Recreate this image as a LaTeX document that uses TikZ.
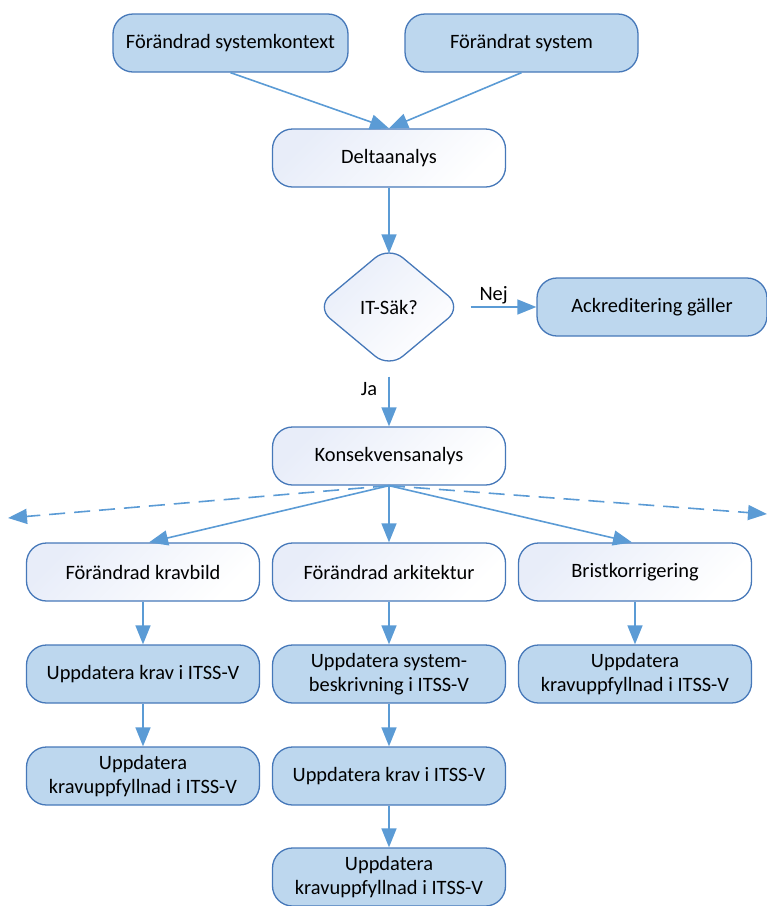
\documentclass[tikz,border=0pt]{standalone}
\usepackage{fontspec}
\setmainfont{Carlito}
\usetikzlibrary{arrows.meta,shapes.geometric}
\definecolor{fillc}{RGB}{189,215,238}
\definecolor{bordc}{RGB}{70,120,185}
\definecolor{arrc}{RGB}{91,155,213}
\definecolor{lav}{RGB}{232,237,249}
\tikzset{
  base/.style={draw=bordc, line width=1.3pt, rounded corners=20pt, minimum width=233pt,
    minimum height=58pt, align=center, inner sep=0pt, font=\fontsize{20.4}{24.4}\selectfont},
  bluebox/.style={base, fill=fillc},
  whitebox/.style={base, top color=lav, bottom color=white, shading angle=45},
  decision/.style={diamond, draw=bordc, line width=1.3pt, rounded corners=18pt,
    minimum width=146pt, minimum height=122pt, inner sep=0pt,
    top color=lav, bottom color=white, shading angle=45, font=\fontsize{20.4}{24.4}\selectfont},
  conn/.style={draw=arrc, line width=1.6pt, -{Triangle[length=19pt,width=15pt]}},
  dconn/.style={conn, dash pattern=on 16pt off 9pt},
  lbl/.style={font=\fontsize{20.4}{24.4}\selectfont, inner sep=0pt}
}
\begin{document}
\begin{tikzpicture}[x=1pt,y=-1pt]
\useasboundingbox (0,0) rectangle (767,906);
\node[bluebox, minimum width=235pt] (ctx) at (230.5,43) {Förändrad systemkontext};
\node[bluebox] (sys) at (521.5,43) {Förändrat system};
\node[whitebox] (delta) at (389,158) {Deltaanalys};
\node[decision] (d) at (389,307) {IT-Säk?};
\node[bluebox, minimum width=230pt] (ack) at (652,307) {Ackreditering gäller};
\node[whitebox] (k) at (389,456) {Konsekvensanalys};
\node[whitebox] (fk) at (143,572) {Förändrad kravbild};
\node[whitebox] (fa) at (389,572) {Förändrad arkitektur};
\node[whitebox] (bk) at (635,572) {Bristkorrigering};
\node[bluebox] (uk1) at (143,674) {Uppdatera krav i ITSS-V};
\node[bluebox] (us) at (389,674) {Uppdatera system-\\beskrivning i ITSS-V};
\node[bluebox] (uf3) at (635,674) {Uppdatera\\kravuppfyllnad i ITSS-V};
\node[bluebox] (uf1) at (143,776) {Uppdatera\\kravuppfyllnad i ITSS-V};
\node[bluebox] (uk2) at (389,776) {Uppdatera krav i ITSS-V};
\node[bluebox] (uf2) at (389,877) {Uppdatera\\kravuppfyllnad i ITSS-V};
\coordinate (dl) at (8,518);
\coordinate (dr) at (767,514);

\draw[conn] (ctx.south) -- (delta.north);
\draw[conn] (sys.south) -- (delta.north);
\draw[conn] (delta.south) -- ([yshift=-8pt]d.north);
\draw[conn, shorten <=8pt] (d.east) -- (ack.west) node[lbl, pos=0.42, above=2pt] {Nej};
\draw[conn, shorten <=8pt] (d.south) -- (k.north) node[lbl, pos=0.35, left=11pt] {Ja};
\draw[dconn] (k.south) -- (dl);
\draw[dconn] (k.south) -- (dr);
\draw[conn] (k.south) -- ([xshift=6pt]fk.north);
\draw[conn] (k.south) -- (fa.north);
\draw[conn] (k.south) -- ([xshift=-3pt]bk.north);
\draw[conn] (fk) -- (uk1);
\draw[conn] (uk1) -- (uf1);
\draw[conn] (fa) -- (us);
\draw[conn] (us) -- (uk2);
\draw[conn] (uk2) -- (uf2);
\draw[conn] (bk) -- (uf3);
\end{tikzpicture}
\end{document}
